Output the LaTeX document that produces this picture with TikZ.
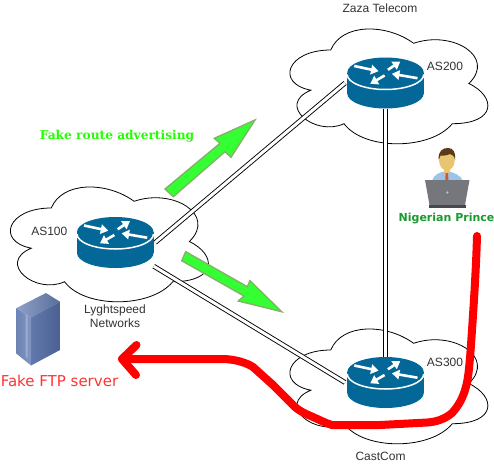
\documentclass[tikz,border=0pt]{standalone}
\usepackage{fontspec}
\setmainfont{Liberation Sans}
\newfontfamily\djsans{DejaVu Sans}
\newfontfamily\djserif{DejaVu Serif}
\usetikzlibrary{arrows.meta}
\definecolor{routerblue}{HTML}{036897}
\definecolor{labelgrey}{HTML}{333333}
\definecolor{arrowgreen}{HTML}{33FF33}
\definecolor{arrowedge}{HTML}{82B366}
\definecolor{fakered}{HTML}{FF3333}
\definecolor{princegreen}{HTML}{1A9A2E}
\definecolor{textgreen}{HTML}{22FF00}
\definecolor{srvtopa}{RGB}{143,160,200}
\definecolor{srvtopb}{RGB}{90,110,155}
\definecolor{srvlefta}{RGB}{108,131,180}
\definecolor{srvleftb}{RGB}{130,150,195}
\definecolor{srvrighta}{RGB}{97,121,172}
\definecolor{srvrightb}{RGB}{76,96,146}
\definecolor{shirt}{RGB}{157,195,230}
\definecolor{tiecol}{RGB}{217,84,43}
\definecolor{skin}{RGB}{234,197,111}
\definecolor{hair}{RGB}{90,58,26}
\definecolor{laptop}{RGB}{118,119,124}
\definecolor{laptopbase}{RGB}{70,72,76}
\definecolor{laptopdot}{RGB}{156,205,230}
\tikzset{
  x=1pt, y=-1pt,
  lbl/.style={inner sep=0pt, text=labelgrey, font=\fontsize{12}{14}\selectfont, align=center},
  routerbox/.style={minimum width=76.5pt, minimum height=51pt, inner sep=0pt},
  link/.style={draw=black, line width=0.9pt, double=white, double distance=3pt},
  cloudline/.style={draw=black, line width=0.8pt, fill=white},
  bigarrow/.style={fill=arrowgreen, draw=arrowedge, line width=1.4pt, line join=miter},
  redline/.style={draw=red, line width=8pt, line cap=round, line join=round},
  rarr/.style={draw=white, line width=2.6pt, -{Triangle[length=7.5pt,width=9.5pt]}},
  cloudshape/.pic={
    \path[cloudline] (55.25,33.5)
      .. controls (11.05,33.5) and (0,67) .. (35.36,73.7)
      .. controls (0,88.44) and (39.78,120.6) .. (68.51,107.2)
      .. controls (88.4,134) and (154.7,134) .. (176.8,107.2)
      .. controls (221,107.2) and (221,80.4) .. (193.38,67)
      .. controls (221,40.2) and (176.8,13.4) .. (138.13,26.8)
      .. controls (110.5,6.7) and (66.3,6.7) .. (55.25,33.5) -- cycle;
    \draw[white,line width=2.2pt] (79.5,114.3) -- (84.5,117.2);
  },
  routershape/.pic={
    \fill[routerblue] (0,10.5) ellipse [x radius=38.25, y radius=15];
    \fill[routerblue] (-38.25,-10.5) rectangle (38.25,10.5);
    \fill[routerblue] (0,-10.5) ellipse [x radius=38.25, y radius=15];
    \draw[white,line width=1.5pt] (-38.25,-8.5) arc [start angle=180, end angle=360, x radius=38.25pt, y radius=15pt];
    \draw[rarr] (-31.25,-17) -- (-7,-11.8);
    \draw[rarr] (2.4,-13.2) -- (14.75,-21.5);
    \draw[rarr] (32,-4.8) -- (6.4,-9.2);
    \draw[rarr] (-0.9,-7.5) -- (-15.25,0.8);
  }
}
\begin{document}
\begin{tikzpicture}
\useasboundingbox (0,0) rectangle (494,463);
% clouds
\pic at (-4,174.5) {cloudshape};
\pic at (275.5,16.5) {cloudshape};
\pic at (275.5,316.5) {cloudshape};
% routers (named boxes)
\node[routerbox] (r100) at (115.25,242.5) {};
\node[routerbox] (r200) at (385.5,83) {};
\node[routerbox] (r300) at (385.5,382.5) {};
% links
\draw[link] ([xshift=1.5pt]r100.east) -- ([xshift=-2pt]r200.west);
\draw[link] ([yshift=2pt]r100.south east) -- ([xshift=-2pt]r300.west);
\draw[link] (r200.south) -- (r300.north);
\pic at (r100.center) {routershape};
\pic at (r200.center) {routershape};
\pic at (r300.center) {routershape};
% green arrows
\draw[bigarrow] (165,189) -- (220,143.3) -- (214.3,138.3) -- (255,120) -- (231,157.3) -- (225,151.7) -- (173.3,196.7) -- cycle;
\draw[bigarrow] (185.7,251.7) -- (247.3,286.7) -- (250,280.7) -- (281.7,311.7) -- (238.3,301) -- (244,296) -- (181.7,260.7) -- cycle;
% server
\shade[left color=srvtopa, right color=srvtopb] (46,293) -- (60,301.7) -- (31,317.5) -- (16,308.3) -- cycle;
\shade[left color=srvlefta, right color=srvleftb] (16,308.3) -- (31,317.5) -- (31,365.5) -- (16,353.3) -- cycle;
\shade[left color=srvrighta, right color=srvrightb] (31,317.5) -- (60,301.7) -- (60,350) -- (31,365.5) -- cycle;
\fill[white,opacity=0.25] (25.5,314) -- (27.5,315.2) -- (27.5,358) -- (25.5,356.5) -- cycle;
% person
\fill[shirt] (432,181) .. controls (433,175) and (440,172) .. (446,171) .. controls (453,172) and (461,175) .. (463,181) -- cycle;
\fill[tiecol] (445.7,172) -- (447.9,172) -- (448.5,181) -- (445.2,181) -- cycle;
\fill[skin] (443.5,167) rectangle (450,173);
\fill[skin] (446.9,160.5) ellipse [x radius=7.8, y radius=10];
\fill[hair] (438.8,160) .. controls (437.5,151) and (443,147.8) .. (448,148) .. controls (453,148) and (456,152) .. (455,160) .. controls (454.5,156) and (452,154.5) .. (450,154) .. controls (446,156) and (442,155.5) .. (440.5,155.5) .. controls (440,157) and (439.5,158.5) .. (438.8,160) -- cycle;
\fill[laptop] (425,180) -- (469.5,180) -- (465,205) -- (429.5,205) -- cycle;
\fill[laptopbase] (429,205) rectangle (466,207.5);
\fill[laptopdot] (447.3,192.5) circle [radius=1.3];
% labels
\node[lbl] (t100) at (49.3,231.5) {AS100};
\node[lbl] (tlyg) at (115,316) {Lyghtspeed\\Networks};
\node[lbl] (tzaz) at (380,8.5) {Zaza Telecom};
\node[lbl] (t200) at (445,66.5) {AS200};
\node[lbl] (t300) at (445,362) {AS300};
\node[lbl] (tcast) at (380.5,456.5) {CastCom};
\node[inner sep=0pt, text=textgreen, font=\djserif\bfseries\fontsize{12.2}{15}\selectfont] (tfake) at (117,136.5) {Fake route advertising};
\node[inner sep=0pt, text=fakered, font=\djsans\fontsize{15}{17}\selectfont] (tftp) at (59.5,380.5) {Fake FTP server};
\node[inner sep=0pt, text=princegreen, font=\djsans\bfseries\fontsize{11}{13}\selectfont] (tnig) at (446.5,219) {Nigerian Prince};
% red path
\draw[redline] (477,236) .. controls (476,270) and (474,300) .. (472,330)
  .. controls (471,345) and (470,360) .. (468.5,373)
  .. controls (467,385) and (464,400) .. (452,413)
  .. controls (445,419) and (436,422) .. (427,422.5)
  -- (380,425) -- (332,425)
  .. controls (325,423) and (320,420) .. (313,417)
  .. controls (306,414) and (301,412) .. (295,407)
  -- (273,385) -- (253,367)
  .. controls (247,363) and (235,359) .. (222,359) -- (122,359);
\draw[redline] (136.5,345) -- (122,359) -- (136,375);
\end{tikzpicture}
\end{document}
